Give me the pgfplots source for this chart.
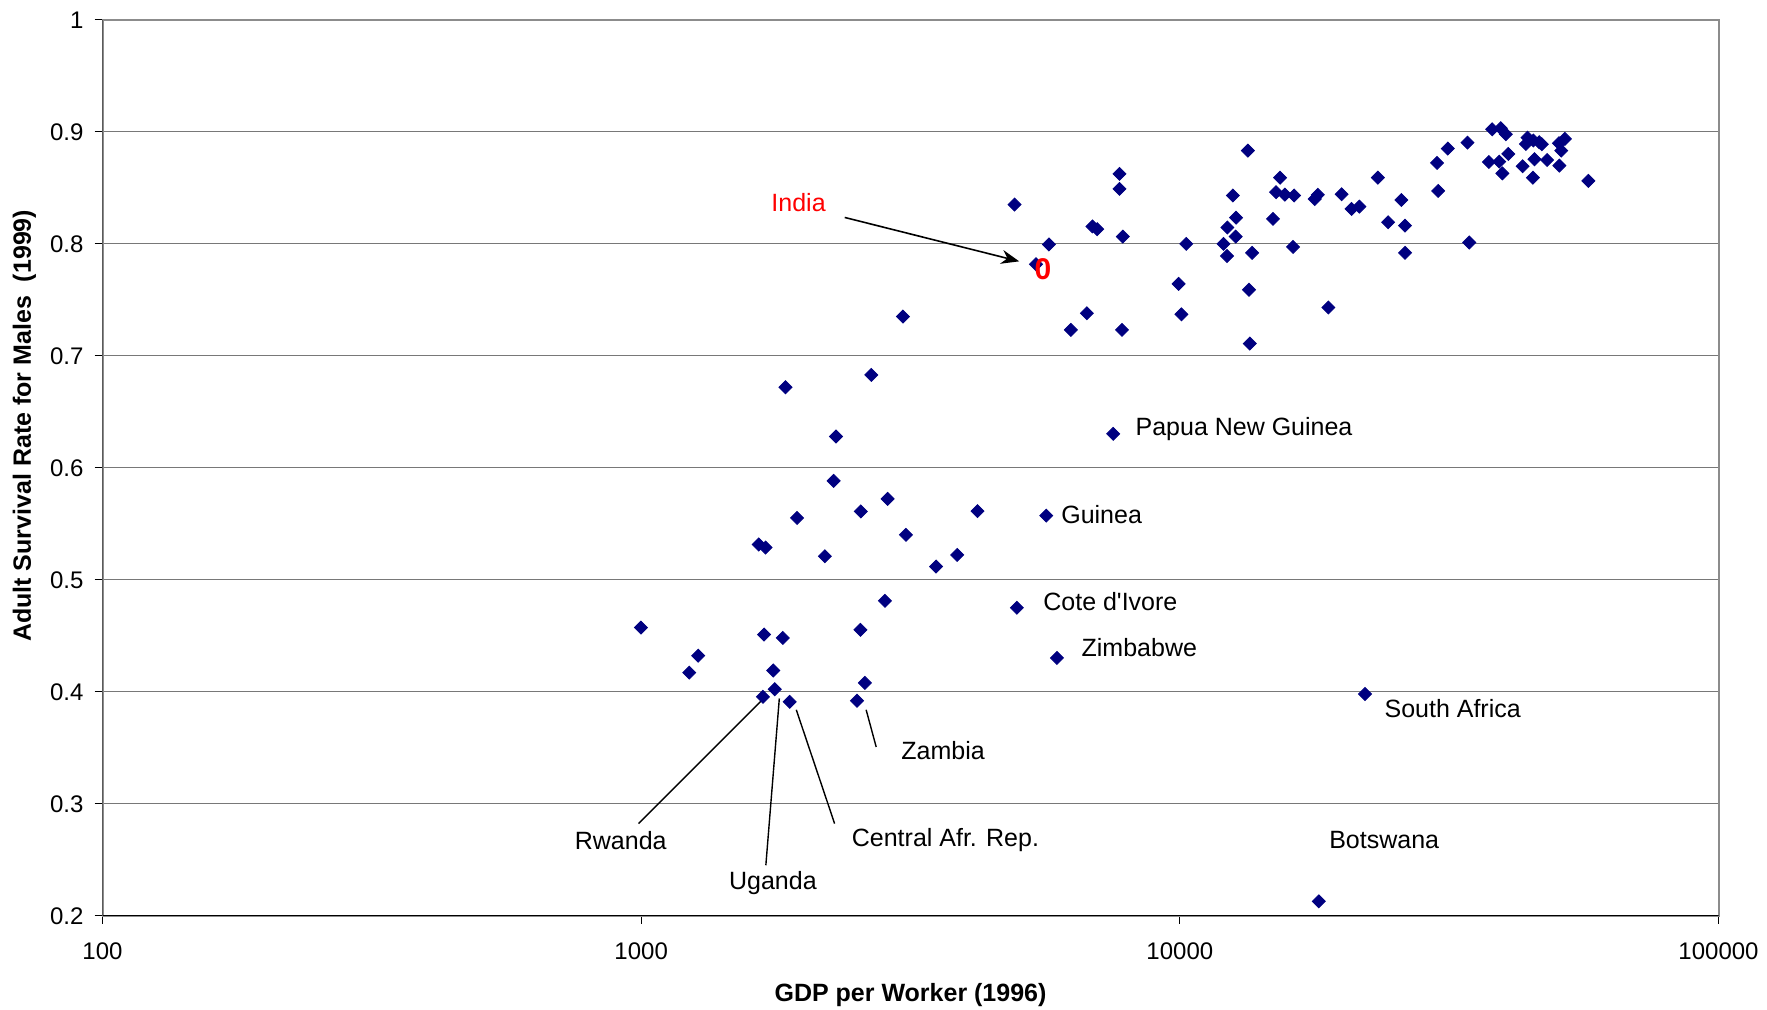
\documentclass[border=0pt]{standalone}
\usepackage{pgfplots}
\pgfplotsset{compat=1.18}
\usetikzlibrary{arrows.meta}
\usepackage{fontspec}
\setmainfont{Liberation Sans}[Ligatures=TeXOff]
\definecolor{navy}{RGB}{0,0,128}
\definecolor{gridgray}{RGB}{120,120,120}
\newcommand{\lbl}{\fontsize{12.5}{14}\selectfont}

\pgfplotstableread{
x y
999 0.4575
1228 0.4173
1276 0.4324
1653 0.5317
1702 0.5290
1691 0.4513
1832 0.4483
1759 0.4192
1770 0.4025
1683 0.3957
1887 0.3912
1853 0.6721
1947 0.5554
2193 0.5212
2277 0.5885
2300 0.6281
2602 0.4081
2516 0.3922
2557 0.5612
2553 0.4555
2674 0.6831
2835 0.4814
2868 0.5724
3062 0.7352
3101 0.5403
3528 0.5120
3861 0.5224
4211 0.5615
4933 0.8352
4983 0.4752
5408 0.7819
5715 0.7996
5649 0.5575
5914 0.4304
6275 0.7233
6721 0.7382
6882 0.8157
7024 0.8132
7522 0.6305
7727 0.8626
7727 0.8492
7838 0.8066
7811 0.7233
9947 0.7644
10067 0.7372
10278 0.8001
12052 0.8001
12234 0.7893
12251 0.8147
12545 0.8433
12714 0.8235
12696 0.8066
13375 0.8834
13440 0.7591
13484 0.7111
13621 0.7921
14892 0.8224
15088 0.8462
15351 0.8592
15665 0.8441
16223 0.7974
16302 0.8433
17803 0.8402
18034 0.8439
18113 0.2131
18869 0.7433
19974 0.8444
20829 0.8313
21543 0.8334
22066 0.3982
23314 0.8592
24360 0.8194
25779 0.8393
26182 0.8164
26182 0.7921
30024 0.8724
30170 0.8474
31437 0.8852
34198 0.8905
34459 0.8013
37473 0.8732
38003 0.9024
39174 0.8735
39419 0.9033
39701 0.8630
40282 0.8980
40711 0.8804
43291 0.8694
43904 0.8893
44198 0.8950
45321 0.8924
45227 0.8592
45540 0.8757
46471 0.8908
46985 0.8891
48060 0.8750
50641 0.8700
50566 0.8899
51056 0.8834
51851 0.8938
57334 0.8563
}\countries

\begin{document}
\begin{tikzpicture}
\begin{axis}[name=ax,
  scale only axis, width=808pt, height=448pt,
  xmode=log, xmin=100, xmax=100000, ymin=0.2, ymax=1,
  xtick={100,1000,10000,100000}, xticklabels={100,1000,10000,100000},
  ytick={0.2,0.3,0.4,0.5,0.6,0.7,0.8,0.9,1},
  yticklabels={0.2,0.3,0.4,0.5,0.6,0.7,0.8,0.9,1},
  xminorticks=false, yminorticks=false,
  ymajorgrids, major grid style={gridgray, line width=0.5pt},
  tick pos=left, tick align=outside, major tick length=4pt,
  tick style={black, line width=0.5pt},
  axis line style={draw=black!45, line width=1pt},
  tick label style={font=\fontsize{12}{14}\selectfont},
  xticklabel style={yshift=-6pt},
  yticklabel style={xshift=-2pt},
  xlabel={GDP per Worker (1996)},
  ylabel={Adult Survival Rate for Males\ \ (1999)},
  xlabel style={font=\fontsize{12.5}{14}\selectfont\bfseries, at={(axis description cs:0.5,-0.0882)}, anchor=center},
  ylabel style={font=\fontsize{12.5}{14}\selectfont\bfseries, at={(axis description cs:-0.0483,0.547)}, anchor=center},
]
\addplot[only marks, mark=square*, mark size=2.3pt, mark options={rotate=45, fill=navy, draw=navy}] table[x=x,y=y] {\countries};
\addplot[only marks, mark=text, text mark={\textcolor{red}{\fontsize{15}{16}\selectfont\bfseries 0}}] coordinates {(5570,0.7777)};

\draw[black, line width=0.8pt] (rel axis cs:0,1) -- (rel axis cs:0,0) -- (rel axis cs:1,0);

\node[text=red, font=\lbl, inner sep=0pt] at (axis cs:1960,0.8368) {India};
\draw[-{Stealth[length=9pt,width=7pt]}, line width=0.8pt] (axis cs:2387,0.8237) -- (axis cs:5033,0.7845);

\node[font=\lbl, inner sep=0pt, anchor=west] at (axis cs:8264,0.6346) {Papua New Guinea};
\node[font=\lbl, inner sep=0pt, anchor=west] at (axis cs:6015,0.5581) {Guinea};
\node[font=\lbl, inner sep=0pt, anchor=west] at (axis cs:5570,0.4807) {Cote d'Ivore};
\node[font=\lbl, inner sep=0pt, anchor=west] at (axis cs:6561,0.4394) {Zimbabwe};
\node[font=\lbl, inner sep=0pt, anchor=west] at (axis cs:23951,0.3851) {South Africa};
\node[font=\lbl, inner sep=0pt, anchor=west] at (axis cs:18914,0.2674) {Botswana};
\node[font=\lbl, inner sep=0pt, anchor=west] at (axis cs:3037,0.3479) {Zambia};
\node[font=\lbl, inner sep=0pt, anchor=west] at (axis cs:752,0.2674) {Rwanda};
\node[font=\lbl, inner sep=0pt, anchor=west] at (axis cs:1454,0.2292) {Uganda};
\node[font=\lbl, inner sep=0pt, anchor=west] at (axis cs:2457,0.2674) {Central Afr. Rep.};

\draw[line width=0.7pt] (axis cs:989,0.2825) -- (axis cs:1680,0.3932);
\draw[line width=0.7pt] (axis cs:1704,0.2453) -- (axis cs:1805,0.3942);
\draw[line width=0.7pt] (axis cs:2286,0.2825) -- (axis cs:1941,0.3841);
\draw[line width=0.7pt] (axis cs:2731,0.3509) -- (axis cs:2616,0.3841);
\end{axis}
\pgfresetboundingbox
\path ([xshift=-51.25pt,yshift=-47pt]ax.south west) rectangle ([xshift=24.25pt,yshift=10pt]ax.north east);
\end{tikzpicture}
\end{document}
